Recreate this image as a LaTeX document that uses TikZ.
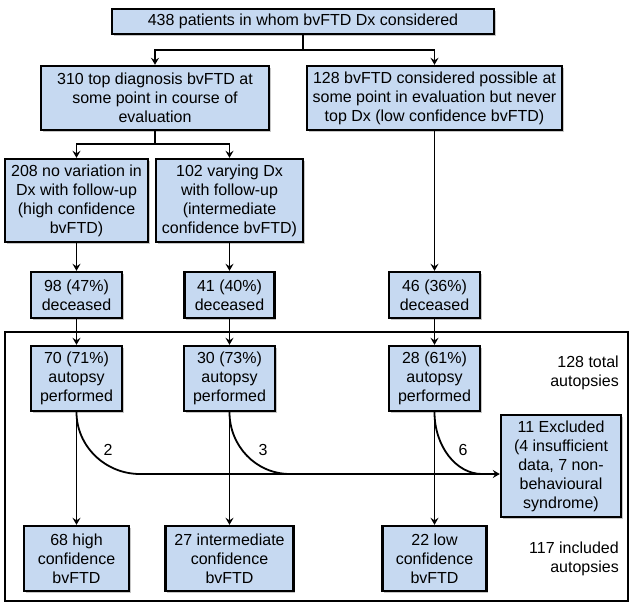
\documentclass[tikz,border=0pt]{standalone}
\usepackage{fontspec}
\setmainfont{Liberation Sans}
\usetikzlibrary{arrows.meta,shadows,calc}
\definecolor{boxfill}{RGB}{198,217,241}
\tikzset{
  bx/.style 2 args={draw=black, line width=2.4pt, fill=boxfill, inner sep=0pt,
    minimum width=#1, minimum height=#2, align=center,
    font=\fontsize{16}{19}\selectfont,
    drop shadow={shadow xshift=1.5pt, shadow yshift=-1.5pt, fill=black, opacity=0.22}},
  conn/.style={line width=1.8pt, black},
  arr/.style={conn, -{Stealth[length=7pt,width=8pt,inset=2.5pt]}},
  lbl/.style={font=\fontsize{16}{19}\selectfont, inner sep=0pt},
}
\begin{document}
\begin{tikzpicture}[x=1pt,y=-1pt]
\useasboundingbox (0,0) rectangle (633,606);
\fill[white] (0,0) rectangle (633,606);

% outer frame
\draw[line width=1.6pt] (5,332) rectangle (628,601);

% nodes
\node[bx={382pt}{25pt}] (top) at (303,21.5) {438 patients in whom bvFTD Dx considered};
\node[bx={228pt}{64pt}] (b310) at (155,98) {310 top diagnosis bvFTD at\\some point in course of\\evaluation};
\node[bx={255pt}{64pt}] (b128) at (434.5,98) {128 bvFTD considered possible at\\some point in evaluation but never\\top Dx (low confidence bvFTD)};
\node[bx={143pt}{83pt}] (b208) at (76.5,200.5) {208 no variation in\\Dx with follow-up\\(high confidence\\bvFTD)};
\node[bx={147pt}{83pt}] (b102) at (229.5,200.5) {102 varying Dx\\with follow-up\\(intermediate\\confidence bvFTD)};
\node[bx={91pt}{46pt}] (d98) at (76.5,295) {98 (47\%)\\deceased};
\node[bx={90pt}{46pt}] (d41) at (229.5,295) {41 (40\%)\\deceased};
\node[bx={91pt}{46pt}] (d46) at (434.5,295) {46 (36\%)\\deceased};
\node[bx={91pt}{65pt}] (a70) at (76.5,378.5) {70 (71\%)\\autopsy\\performed};
\node[bx={91pt}{65pt}] (a30) at (229.5,378.5) {30 (73\%)\\autopsy\\performed};
\node[bx={91pt}{65pt}] (a28) at (434.5,378.5) {28 (61\%)\\autopsy\\performed};
\node[bx={120pt}{102pt}] (excl) at (561,466) {11 Excluded\\(4 insufficient\\data, 7 non-\\behavioural\\syndrome)};
\node[bx={105pt}{65pt}] (f68) at (76.5,558.5) {68 high\\confidence\\bvFTD};
\node[bx={128pt}{65pt}] (f27) at (229.5,558.5) {27 intermediate\\confidence\\bvFTD};
\node[bx={104pt}{65pt}] (f22) at (434.5,558.5) {22 low\\confidence\\bvFTD};

% side texts
\node[lbl, anchor=east, align=right] (tot) at (619,373) {128 total\\autopsies};
\node[lbl, anchor=east, align=right] (inc) at (619,559) {117 included\\autopsies};

% connectors top
\coordinate (j1) at (303,50);
\draw[conn] (top.south) -- (j1);
\draw[arr] (j1) -| (b310.north);
\draw[arr] (j1) -| (b128.north);
\coordinate (j2) at (155,144);
\draw[conn] (b310.south) -- (j2);
\draw[arr] (j2) -| (b208.north);
\draw[arr] (j2) -| (b102.north);

\draw[arr] (b208.south) -- (d98.north);
\draw[arr] (b102.south) -- (d41.north);
\draw[arr] (b128.south) -- (d46.north);
\draw[arr] (d98.south) -- (a70.north);
\draw[arr] (d41.south) -- (a30.north);
\draw[arr] (d46.south) -- (a28.north);
\draw[arr] (a70.south) -- (f68.north);
\draw[arr] (a30.south) -- (f27.north);
\draw[arr] (a28.south) -- (f22.north);

% exclusion curves
\coordinate (c1) at (140,474);
\coordinate (c2) at (290,474);
\coordinate (c3) at (482,474);
\draw[conn] (a70.south) .. controls (76.5,446) and (105,474) .. (c1);
\draw[conn] (a30.south) .. controls (229.5,446) and (256,474) .. (c2);
\draw[conn] (a28.south) .. controls (434.5,446) and (456,474) .. (c3);
\draw[arr] (c1) -- (excl.west |- c1);

\node[lbl] (n2) at (108,450) {2};
\node[lbl] (n3) at (263,450) {3};
\node[lbl] (n6) at (463,450) {6};
\end{tikzpicture}
\end{document}
